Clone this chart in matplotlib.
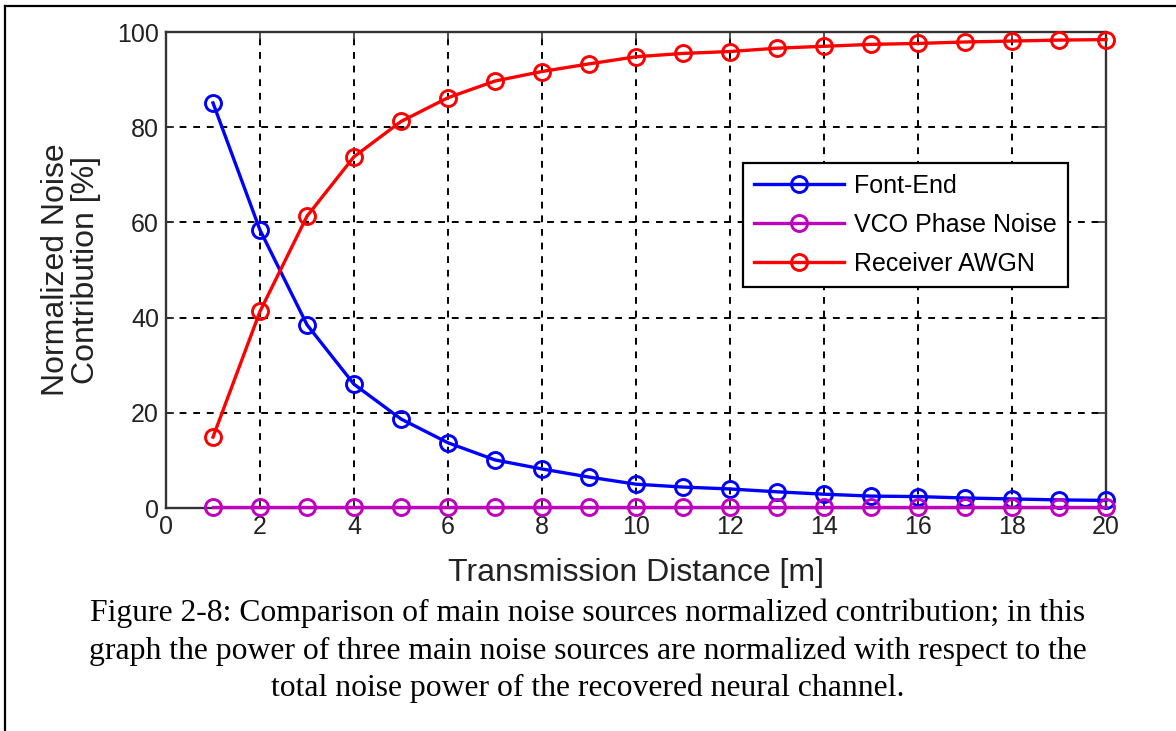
import matplotlib
matplotlib.use("Agg")
import matplotlib.pyplot as plt
from matplotlib.lines import Line2D

distance = list(range(1, 21))
front_end = [85.1, 58.4, 38.5, 26.0, 18.7, 13.7, 10.1, 8.2, 6.5, 5.0,
             4.4, 4.0, 3.4, 2.9, 2.5, 2.4, 2.1, 1.9, 1.7, 1.6]
vco_phase = [0.2] * 20
receiver_awgn = [14.9, 41.3, 61.3, 73.8, 81.2, 86.2, 89.7, 91.7, 93.3, 94.8,
                 95.5, 95.9, 96.6, 97.0, 97.4, 97.6, 97.9, 98.1, 98.3, 98.4]
labels = ["Font-End", "VCO Phase Noise", "Receiver AWGN"]
colors = ["#0000ff", "#bf00bf", "#ff0000"]
xticks = [0, 2, 4, 6, 8, 10, 12, 14, 16, 18, 20]
yticks = [0, 20, 40, 60, 80, 100]
caption = ("Figure 2-8: Comparison of main noise sources normalized contribution; in this\n"
           "graph the power of three main noise sources are normalized with respect to the\n"
           "total noise power of the recovered neural channel.")

plt.rcParams['font.family'] = ['Liberation Sans', 'DejaVu Sans']

fig = plt.figure(figsize=(11.76, 7.31), dpi=100)
ax = fig.add_axes([166/1176, 1-508/731, 940/1176, 476/731])

for ys, lab, c in zip([front_end, vco_phase, receiver_awgn], labels, colors):
    ax.plot(distance, ys, color=c, lw=2.4, marker='o', markersize=11.5,
            markerfacecolor='none', markeredgewidth=2.1, label=lab, zorder=3,
            clip_on=False)

ax.set_xlim(0, 20)
ax.set_ylim(0, 100)
ax.set_xticks(xticks)
ax.set_yticks(yticks)
ax.grid(True, color='black', linestyle=(0, (3.5, 3.5)), linewidth=1.4)
ax.tick_params(direction='in', length=6, width=1.2, top=True, right=True,
               labelsize=18, colors='#333333', labelcolor='#222222', pad=5)
for s in ax.spines.values():
    s.set_color('#333333')
    s.set_linewidth(1.7)

ax.set_xlabel("Transmission Distance [m]", fontsize=23, color='#222222', labelpad=14)
ax.set_ylabel("Normalized Noise\nContribution [%]", fontsize=23, color='#222222',
              labelpad=12, linespacing=1.0)

leg = ax.legend(loc='upper right', bbox_to_anchor=(0.96, 0.725), fontsize=18,
                fancybox=False, edgecolor='black', framealpha=1, handlelength=3.6,
                borderpad=0.45, labelspacing=0.6, handletextpad=0.4,
                borderaxespad=0)
leg.get_frame().set_linewidth(1.6)

fig.text(0.5, 1-651/731, caption, ha='center', va='center', fontsize=22.8,
         family=['Liberation Serif', 'DejaVu Serif'], linespacing=1.35)

fig.add_artist(Line2D([5/1176, 1.0], [1-6/731, 1-6/731], transform=fig.transFigure,
                      color='black', lw=1.6))
fig.add_artist(Line2D([5/1176, 5/1176], [0, 1-6/731], transform=fig.transFigure,
                      color='black', lw=1.6))

fig.savefig("out.png", dpi=100, facecolor='white')
